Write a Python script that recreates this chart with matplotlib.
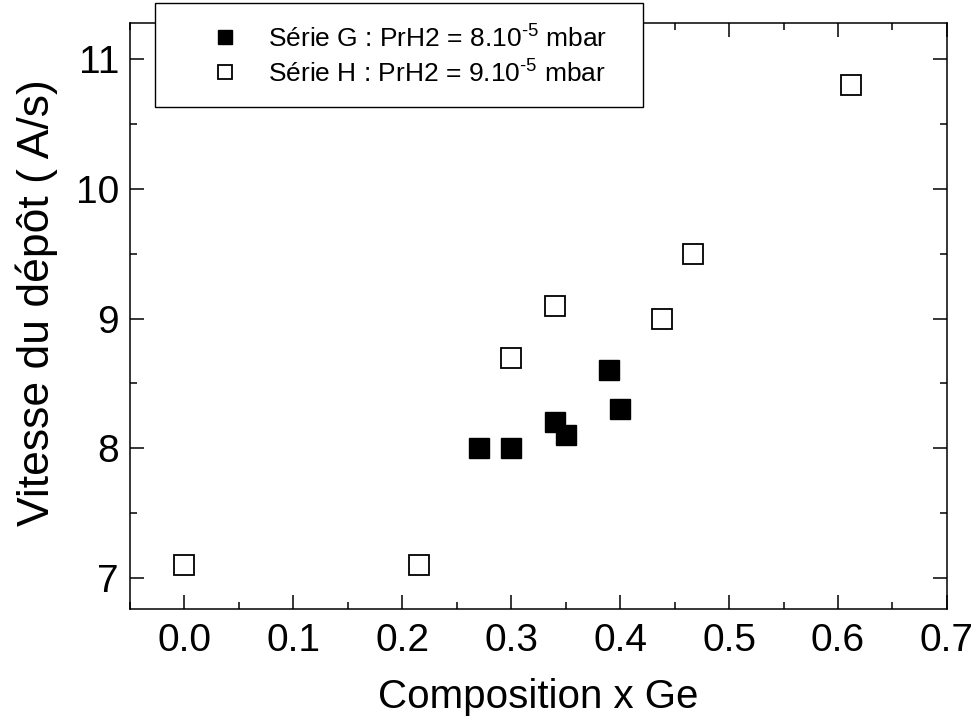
import matplotlib
matplotlib.use("Agg")
import matplotlib.pyplot as plt
from matplotlib.ticker import MultipleLocator

plt.rcParams['font.family'] = ['Liberation Sans', 'DejaVu Sans']
plt.rcParams['mathtext.fontset'] = 'custom'
plt.rcParams['mathtext.rm'] = 'Liberation Sans'

# Série G : PrH2 = 8.10^-5 mbar (filled squares)
g_x = [0.27, 0.30, 0.34, 0.35, 0.39, 0.40]
g_y = [8.0, 8.0, 8.2, 8.1, 8.6, 8.3]

# Série H : PrH2 = 9.10^-5 mbar (open squares)
h_x = [0.0, 0.215, 0.30, 0.34, 0.438, 0.467, 0.612]
h_y = [7.1, 7.1, 8.7, 9.1, 9.0, 9.5, 10.8]

g_label = r"Série G : PrH2 = 8.10$^{\text{-5}}$ mbar"
h_label = r"Série H : PrH2 = 9.10$^{\text{-5}}$ mbar"

fig = plt.figure(figsize=(9.76, 7.18), dpi=100)
ax = fig.add_axes([0.1332, 0.1518, 0.8370, 0.8161])

ax.plot(g_x, g_y, linestyle='none', marker='s', markersize=15,
        markerfacecolor='black', markeredgecolor='black', label=g_label)
ax.plot(h_x, h_y, linestyle='none', marker='s', markersize=15,
        markerfacecolor='white', markeredgecolor='black', markeredgewidth=1.3,
        label=h_label)

ax.set_xlim(-0.05, 0.70)
ax.set_ylim(6.76, 11.28)
ax.xaxis.set_major_locator(MultipleLocator(0.1))
ax.xaxis.set_minor_locator(MultipleLocator(0.05))
ax.yaxis.set_major_locator(MultipleLocator(1))
ax.yaxis.set_minor_locator(MultipleLocator(0.5))
ax.xaxis.set_major_formatter(plt.FormatStrFormatter('%.1f'))

ax.tick_params(which='both', direction='in', top=True, right=True,
               labelsize=28, width=1.1)
ax.tick_params(axis='x', pad=10)
ax.tick_params(axis='y', pad=8)
ax.tick_params(which='major', length=10)
ax.tick_params(which='minor', length=5)
for s in ax.spines.values():
    s.set_linewidth(1.1)

ax.set_xlabel("Composition x Ge", fontsize=29, labelpad=14)
ax.set_ylabel("Vitesse du dépôt ( A/s)", fontsize=32, labelpad=13)
ax.yaxis.label.set_y(0.523)

leg = ax.legend(loc='upper left', bbox_to_anchor=(0.159, 0.996, 0.500, 0.0),
                bbox_transform=fig.transFigure, mode='expand', borderaxespad=0,
                fontsize=19, markerscale=0.65, handletextpad=-0.25,
                fancybox=False, framealpha=1, edgecolor='black',
                borderpad=0.78, labelspacing=0.28, handlelength=3.75)
leg.get_frame().set_linewidth(1.0)

fig.savefig("out.png", dpi=100)
